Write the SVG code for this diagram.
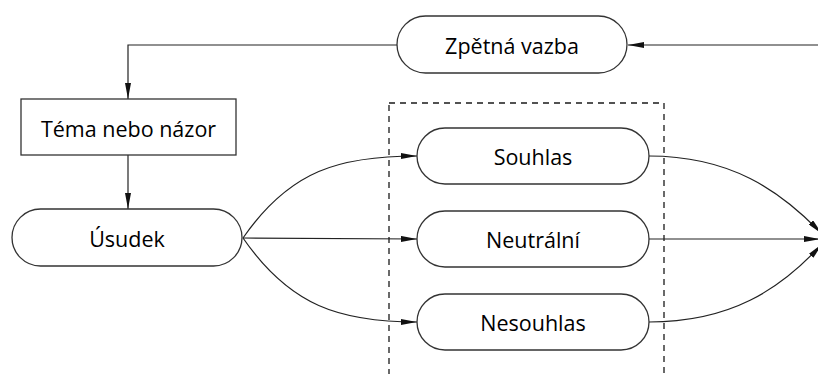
<svg xmlns="http://www.w3.org/2000/svg" width="818" height="374" viewBox="0 0 818 374">
<defs>
<style>
.n{fill:#fff;stroke:#333;stroke-width:1.3}
.t{font-family:"Open Sans","DejaVu Sans",sans-serif;font-size:21.5px;font-weight:500;fill:#000;text-anchor:middle;dominant-baseline:central}
.c{fill:none;stroke:#222;stroke-width:1.2}
</style>
<marker id="a" viewBox="0 0 16 6" refX="16" refY="3" markerWidth="16" markerHeight="6" markerUnits="userSpaceOnUse" orient="auto">
<path d="M0,0 L16,3 L0,6 Z" fill="#111"/>
</marker>
</defs>
<rect x="389" y="103" width="275" height="290" fill="none" stroke="#1a1a1a" stroke-width="1.3" stroke-dasharray="6,5"/>
<g id="connectors">
<path class="c" d="M818,45 L628,45" marker-end="url(#a)"/>
<path class="c" d="M397,45 L128,45 L128,99" marker-end="url(#a)"/>
<path class="c" d="M128,155 L128,209" marker-end="url(#a)"/>
<path class="c" d="M243,238 C290,170 340,156 417,156" marker-end="url(#a)"/>
<path class="c" d="M243,238 L417,239" marker-end="url(#a)"/>
<path class="c" d="M243,238 C290,306 340,322 417,322" marker-end="url(#a)"/>
<path class="c" d="M649,156 C730,156 780,190 822,234" marker-end="url(#a)"/>
<path class="c" d="M649,239 L820,239" marker-end="url(#a)"/>
<path class="c" d="M649,322 C730,322 780,290 822,244" marker-end="url(#a)"/>
</g>
<g id="zpetna"><rect class="n" x="397" y="16" width="230" height="57" rx="28.5"/><text class="t" x="512" y="45">Zpětná vazba</text></g>
<g id="tema"><rect class="n" x="21" y="99" width="215" height="56"/><text class="t" x="128.5" y="128">Téma nebo názor</text></g>
<g id="usudek"><rect class="n" x="12" y="209" width="230" height="57" rx="28.5"/><text class="t" x="127" y="238">Úsudek</text></g>
<g id="souhlas"><rect class="n" x="417" y="128" width="232" height="56" rx="28"/><text class="t" x="533" y="156">Souhlas</text></g>
<g id="neutralni"><rect class="n" x="417" y="211" width="232" height="56" rx="28"/><text class="t" x="533" y="239">Neutrální</text></g>
<g id="nesouhlas"><rect class="n" x="417" y="294" width="232" height="56" rx="28"/><text class="t" x="533" y="322">Nesouhlas</text></g>
</svg>
